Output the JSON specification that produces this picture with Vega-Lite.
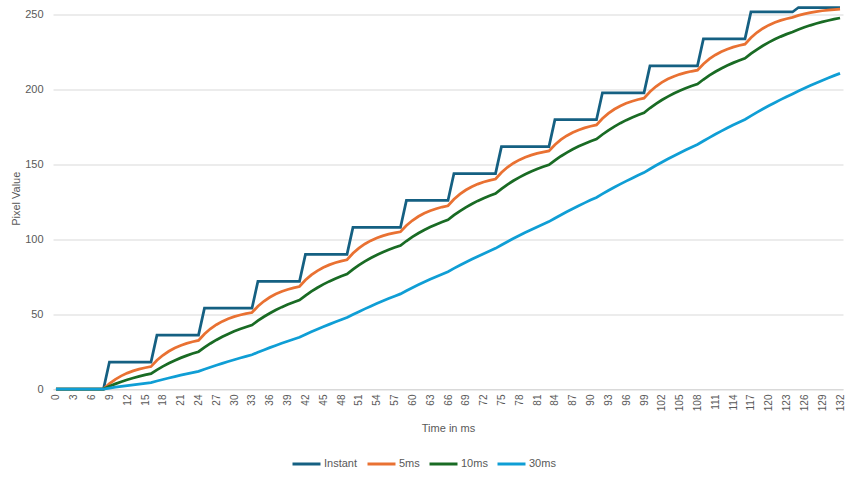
{
  "$schema": "https://vega.github.io/schema/vega-lite/v6.json",
  "width": 790,
  "height": 381.5,
  "autosize": {"type": "none"},
  "padding": {"left": 53, "top": 7.5, "right": 11, "bottom": 92},
  "background": "white",
  "config": {"view": {"stroke": null}, "font": "Liberation Sans"},
  "data": {"values": [
    {"t":0,"Instant":0,"5ms":0,"10ms":0,"30ms":0},
    {"t":1,"Instant":0,"5ms":0,"10ms":0,"30ms":0},
    {"t":2,"Instant":0,"5ms":0,"10ms":0,"30ms":0},
    {"t":3,"Instant":0,"5ms":0,"10ms":0,"30ms":0},
    {"t":4,"Instant":0,"5ms":0,"10ms":0,"30ms":0},
    {"t":5,"Instant":0,"5ms":0,"10ms":0,"30ms":0},
    {"t":6,"Instant":0,"5ms":0,"10ms":0,"30ms":0},
    {"t":7,"Instant":0,"5ms":0,"10ms":0,"30ms":0},
    {"t":8,"Instant":0,"5ms":0,"10ms":0,"30ms":0},
    {"t":9,"Instant":18,"5ms":3.6,"10ms":1.8,"30ms":0.6},
    {"t":10,"Instant":18,"5ms":6.48,"10ms":3.42,"30ms":1.18},
    {"t":11,"Instant":18,"5ms":8.78,"10ms":4.88,"30ms":1.74},
    {"t":12,"Instant":18,"5ms":10.63,"10ms":6.19,"30ms":2.28},
    {"t":13,"Instant":18,"5ms":12.1,"10ms":7.37,"30ms":2.81},
    {"t":14,"Instant":18,"5ms":13.28,"10ms":8.43,"30ms":3.31},
    {"t":15,"Instant":18,"5ms":14.22,"10ms":9.39,"30ms":3.8},
    {"t":16,"Instant":18,"5ms":14.98,"10ms":10.25,"30ms":4.28},
    {"t":17,"Instant":36,"5ms":19.18,"10ms":12.83,"30ms":5.33},
    {"t":18,"Instant":36,"5ms":22.55,"10ms":15.14,"30ms":6.36},
    {"t":19,"Instant":36,"5ms":25.24,"10ms":17.23,"30ms":7.34},
    {"t":20,"Instant":36,"5ms":27.39,"10ms":19.11,"30ms":8.3},
    {"t":21,"Instant":36,"5ms":29.11,"10ms":20.8,"30ms":9.22},
    {"t":22,"Instant":36,"5ms":30.49,"10ms":22.32,"30ms":10.12},
    {"t":23,"Instant":36,"5ms":31.59,"10ms":23.69,"30ms":10.98},
    {"t":24,"Instant":36,"5ms":32.47,"10ms":24.92,"30ms":11.81},
    {"t":25,"Instant":54,"5ms":36.78,"10ms":27.82,"30ms":13.22},
    {"t":26,"Instant":54,"5ms":40.22,"10ms":30.44,"30ms":14.58},
    {"t":27,"Instant":54,"5ms":42.98,"10ms":32.8,"30ms":15.89},
    {"t":28,"Instant":54,"5ms":45.18,"10ms":34.92,"30ms":17.16},
    {"t":29,"Instant":54,"5ms":46.95,"10ms":36.83,"30ms":18.39},
    {"t":30,"Instant":54,"5ms":48.36,"10ms":38.54,"30ms":19.58},
    {"t":31,"Instant":54,"5ms":49.49,"10ms":40.09,"30ms":20.72},
    {"t":32,"Instant":54,"5ms":50.39,"10ms":41.48,"30ms":21.83},
    {"t":33,"Instant":54,"5ms":51.11,"10ms":42.73,"30ms":22.91},
    {"t":34,"Instant":72,"5ms":55.29,"10ms":45.66,"30ms":24.54},
    {"t":35,"Instant":72,"5ms":58.63,"10ms":48.29,"30ms":26.12},
    {"t":36,"Instant":72,"5ms":61.31,"10ms":50.66,"30ms":27.65},
    {"t":37,"Instant":72,"5ms":63.44,"10ms":52.8,"30ms":29.13},
    {"t":38,"Instant":72,"5ms":65.16,"10ms":54.72,"30ms":30.56},
    {"t":39,"Instant":72,"5ms":66.52,"10ms":56.45,"30ms":31.94},
    {"t":40,"Instant":72,"5ms":67.62,"10ms":58,"30ms":33.28},
    {"t":41,"Instant":72,"5ms":68.5,"10ms":59.4,"30ms":34.57},
    {"t":42,"Instant":90,"5ms":72.8,"10ms":62.46,"30ms":36.42},
    {"t":43,"Instant":90,"5ms":76.24,"10ms":65.22,"30ms":38.2},
    {"t":44,"Instant":90,"5ms":78.99,"10ms":67.69,"30ms":39.93},
    {"t":45,"Instant":90,"5ms":81.19,"10ms":69.92,"30ms":41.6},
    {"t":46,"Instant":90,"5ms":82.95,"10ms":71.93,"30ms":43.21},
    {"t":47,"Instant":90,"5ms":84.36,"10ms":73.74,"30ms":44.77},
    {"t":48,"Instant":90,"5ms":85.49,"10ms":75.37,"30ms":46.28},
    {"t":49,"Instant":90,"5ms":86.39,"10ms":76.83,"30ms":47.74},
    {"t":50,"Instant":108,"5ms":90.71,"10ms":79.95,"30ms":49.74},
    {"t":51,"Instant":108,"5ms":94.17,"10ms":82.75,"30ms":51.69},
    {"t":52,"Instant":108,"5ms":96.94,"10ms":85.28,"30ms":53.56},
    {"t":53,"Instant":108,"5ms":99.15,"10ms":87.55,"30ms":55.38},
    {"t":54,"Instant":108,"5ms":100.92,"10ms":89.59,"30ms":57.13},
    {"t":55,"Instant":108,"5ms":102.34,"10ms":91.43,"30ms":58.83},
    {"t":56,"Instant":108,"5ms":103.47,"10ms":93.09,"30ms":60.47},
    {"t":57,"Instant":108,"5ms":104.37,"10ms":94.58,"30ms":62.05},
    {"t":58,"Instant":108,"5ms":105.1,"10ms":95.92,"30ms":63.58},
    {"t":59,"Instant":126,"5ms":109.28,"10ms":98.93,"30ms":65.66},
    {"t":60,"Instant":126,"5ms":112.62,"10ms":101.64,"30ms":67.67},
    {"t":61,"Instant":126,"5ms":115.3,"10ms":104.07,"30ms":69.62},
    {"t":62,"Instant":126,"5ms":117.44,"10ms":106.27,"30ms":71.5},
    {"t":63,"Instant":126,"5ms":119.15,"10ms":108.24,"30ms":73.32},
    {"t":64,"Instant":126,"5ms":120.52,"10ms":110.02,"30ms":75.07},
    {"t":65,"Instant":126,"5ms":121.62,"10ms":111.61,"30ms":76.77},
    {"t":66,"Instant":126,"5ms":122.49,"10ms":113.05,"30ms":78.41},
    {"t":67,"Instant":144,"5ms":126.8,"10ms":116.15,"30ms":80.6},
    {"t":68,"Instant":144,"5ms":130.24,"10ms":118.93,"30ms":82.71},
    {"t":69,"Instant":144,"5ms":132.99,"10ms":121.44,"30ms":84.75},
    {"t":70,"Instant":144,"5ms":135.19,"10ms":123.7,"30ms":86.73},
    {"t":71,"Instant":144,"5ms":136.95,"10ms":125.73,"30ms":88.64},
    {"t":72,"Instant":144,"5ms":138.36,"10ms":127.55,"30ms":90.48},
    {"t":73,"Instant":144,"5ms":139.49,"10ms":129.2,"30ms":92.27},
    {"t":74,"Instant":144,"5ms":140.39,"10ms":130.68,"30ms":93.99},
    {"t":75,"Instant":162,"5ms":144.71,"10ms":133.81,"30ms":96.26},
    {"t":76,"Instant":162,"5ms":148.17,"10ms":136.63,"30ms":98.45},
    {"t":77,"Instant":162,"5ms":150.94,"10ms":139.17,"30ms":100.57},
    {"t":78,"Instant":162,"5ms":153.15,"10ms":141.45,"30ms":102.62},
    {"t":79,"Instant":162,"5ms":154.92,"10ms":143.5,"30ms":104.59},
    {"t":80,"Instant":162,"5ms":156.34,"10ms":145.35,"30ms":106.51},
    {"t":81,"Instant":162,"5ms":157.47,"10ms":147.02,"30ms":108.36},
    {"t":82,"Instant":162,"5ms":158.37,"10ms":148.52,"30ms":110.15},
    {"t":83,"Instant":162,"5ms":159.1,"10ms":149.87,"30ms":111.87},
    {"t":84,"Instant":180,"5ms":163.28,"10ms":152.88,"30ms":114.15},
    {"t":85,"Instant":180,"5ms":166.62,"10ms":155.59,"30ms":116.34},
    {"t":86,"Instant":180,"5ms":169.3,"10ms":158.03,"30ms":118.46},
    {"t":87,"Instant":180,"5ms":171.44,"10ms":160.23,"30ms":120.51},
    {"t":88,"Instant":180,"5ms":173.15,"10ms":162.21,"30ms":122.5},
    {"t":89,"Instant":180,"5ms":174.52,"10ms":163.99,"30ms":124.41},
    {"t":90,"Instant":180,"5ms":175.62,"10ms":165.59,"30ms":126.27},
    {"t":91,"Instant":180,"5ms":176.49,"10ms":167.03,"30ms":128.06},
    {"t":92,"Instant":198,"5ms":180.8,"10ms":170.12,"30ms":130.39},
    {"t":93,"Instant":198,"5ms":184.24,"10ms":172.91,"30ms":132.64},
    {"t":94,"Instant":198,"5ms":186.99,"10ms":175.42,"30ms":134.82},
    {"t":95,"Instant":198,"5ms":189.19,"10ms":177.68,"30ms":136.93},
    {"t":96,"Instant":198,"5ms":190.95,"10ms":179.71,"30ms":138.96},
    {"t":97,"Instant":198,"5ms":192.36,"10ms":181.54,"30ms":140.93},
    {"t":98,"Instant":198,"5ms":193.49,"10ms":183.19,"30ms":142.83},
    {"t":99,"Instant":198,"5ms":194.39,"10ms":184.67,"30ms":144.67},
    {"t":100,"Instant":216,"5ms":198.71,"10ms":187.8,"30ms":147.05},
    {"t":101,"Instant":216,"5ms":202.17,"10ms":190.62,"30ms":149.35},
    {"t":102,"Instant":216,"5ms":204.94,"10ms":193.16,"30ms":151.57},
    {"t":103,"Instant":216,"5ms":207.15,"10ms":195.44,"30ms":153.72},
    {"t":104,"Instant":216,"5ms":208.92,"10ms":197.5,"30ms":155.79},
    {"t":105,"Instant":216,"5ms":210.34,"10ms":199.35,"30ms":157.8},
    {"t":106,"Instant":216,"5ms":211.47,"10ms":201.01,"30ms":159.74},
    {"t":107,"Instant":216,"5ms":212.37,"10ms":202.51,"30ms":161.62},
    {"t":108,"Instant":216,"5ms":213.1,"10ms":203.86,"30ms":163.43},
    {"t":109,"Instant":234,"5ms":217.28,"10ms":206.88,"30ms":165.78},
    {"t":110,"Instant":234,"5ms":220.62,"10ms":209.59,"30ms":168.06},
    {"t":111,"Instant":234,"5ms":223.3,"10ms":212.03,"30ms":170.25},
    {"t":112,"Instant":234,"5ms":225.44,"10ms":214.23,"30ms":172.38},
    {"t":113,"Instant":234,"5ms":227.15,"10ms":216.2,"30ms":174.43},
    {"t":114,"Instant":234,"5ms":228.52,"10ms":217.98,"30ms":176.42},
    {"t":115,"Instant":234,"5ms":229.62,"10ms":219.58,"30ms":178.34},
    {"t":116,"Instant":234,"5ms":230.49,"10ms":221.03,"30ms":180.19},
    {"t":117,"Instant":252,"5ms":234.8,"10ms":224.12,"30ms":182.59},
    {"t":118,"Instant":252,"5ms":238.24,"10ms":226.91,"30ms":184.9},
    {"t":119,"Instant":252,"5ms":240.99,"10ms":229.42,"30ms":187.14},
    {"t":120,"Instant":252,"5ms":243.19,"10ms":231.68,"30ms":189.3},
    {"t":121,"Instant":252,"5ms":244.95,"10ms":233.71,"30ms":191.39},
    {"t":122,"Instant":252,"5ms":246.36,"10ms":235.54,"30ms":193.41},
    {"t":123,"Instant":252,"5ms":247.49,"10ms":237.19,"30ms":195.36},
    {"t":124,"Instant":252,"5ms":248.39,"10ms":238.67,"30ms":197.25},
    {"t":125,"Instant":255,"5ms":249.71,"10ms":240.3,"30ms":199.18},
    {"t":126,"Instant":255,"5ms":250.77,"10ms":241.77,"30ms":201.04},
    {"t":127,"Instant":255,"5ms":251.62,"10ms":243.09,"30ms":202.84},
    {"t":128,"Instant":255,"5ms":252.29,"10ms":244.28,"30ms":204.57},
    {"t":129,"Instant":255,"5ms":252.83,"10ms":245.36,"30ms":206.26},
    {"t":130,"Instant":255,"5ms":253.27,"10ms":246.32,"30ms":207.88},
    {"t":131,"Instant":255,"5ms":253.61,"10ms":247.19,"30ms":209.45},
    {"t":132,"Instant":255,"5ms":253.89,"10ms":247.97,"30ms":210.97}
  ]},
  "transform": [{"fold": ["Instant", "5ms", "10ms", "30ms"], "as": ["series", "value"]}],
  "encoding": {
    "x": {
      "field": "t", "type": "quantitative",
      "scale": {"domain": [-0.5, 132.5], "nice": false, "zero": false},
      "axis": {
        "title": "Time in ms",
        "values": [0,3,6,9,12,15,18,21,24,27,30,33,36,39,42,45,48,51,54,57,60,63,66,69,72,75,78,81,84,87,90,93,96,99,102,105,108,111,114,117,120,123,126,129,132],
        "labelAngle": -90, "labelFontSize": 10, "labelColor": "#595959",
        "labelFlush": false, "labelOverlap": false, "labelPadding": 5,
        "grid": false, "ticks": false, "tickSize": 0,
        "domainColor": "#d9d9d9", "domainWidth": 1,
        "titleFontSize": 11, "titleFontWeight": "normal", "titleColor": "#595959",
        "titleY": 33, "titleBaseline": "top"
      }
    },
    "y": {
      "field": "value", "type": "quantitative",
      "scale": {"domain": [0, 255], "nice": false},
      "axis": {
        "title": "Pixel Value",
        "values": [0, 50, 100, 150, 200, 250],
        "grid": true, "gridColor": "#d9d9d9", "gridWidth": 1,
        "domain": false, "ticks": false, "tickSize": 0,
        "labelPadding": 10, "labelFontSize": 11, "labelColor": "#595959",
        "titleFontSize": 11, "titleFontWeight": "normal", "titleColor": "#595959",
        "titleX": -34, "titleY": 190.75, "titleBaseline": "alphabetic"
      }
    },
    "color": {
      "field": "series", "type": "nominal",
      "scale": {"domain": ["Instant", "5ms", "10ms", "30ms"], "range": ["#156082", "#E97132", "#196B24", "#0F9ED5"]},
      "legend": {
        "orient": "none", "legendX": 238, "legendY": 441, "direction": "horizontal",
        "title": null, "symbolType": "stroke", "symbolSize": 784, "symbolStrokeWidth": 3,
        "labelFontSize": 11, "labelColor": "#595959", "labelOffset": 2,
        "columnPadding": 3, "padding": 0, "gridAlign": "none"
      }
    }
  },
  "layer": [
    {"transform": [{"filter": "datum.series === 'Instant'"}], "mark": {"type": "line", "strokeWidth": 2.75}},
    {"transform": [{"filter": "datum.series === '5ms'"}], "mark": {"type": "line", "strokeWidth": 2.75}},
    {"transform": [{"filter": "datum.series === '10ms'"}], "mark": {"type": "line", "strokeWidth": 2.75}},
    {"transform": [{"filter": "datum.series === '30ms'"}], "mark": {"type": "line", "strokeWidth": 2.75}}
  ]
}
